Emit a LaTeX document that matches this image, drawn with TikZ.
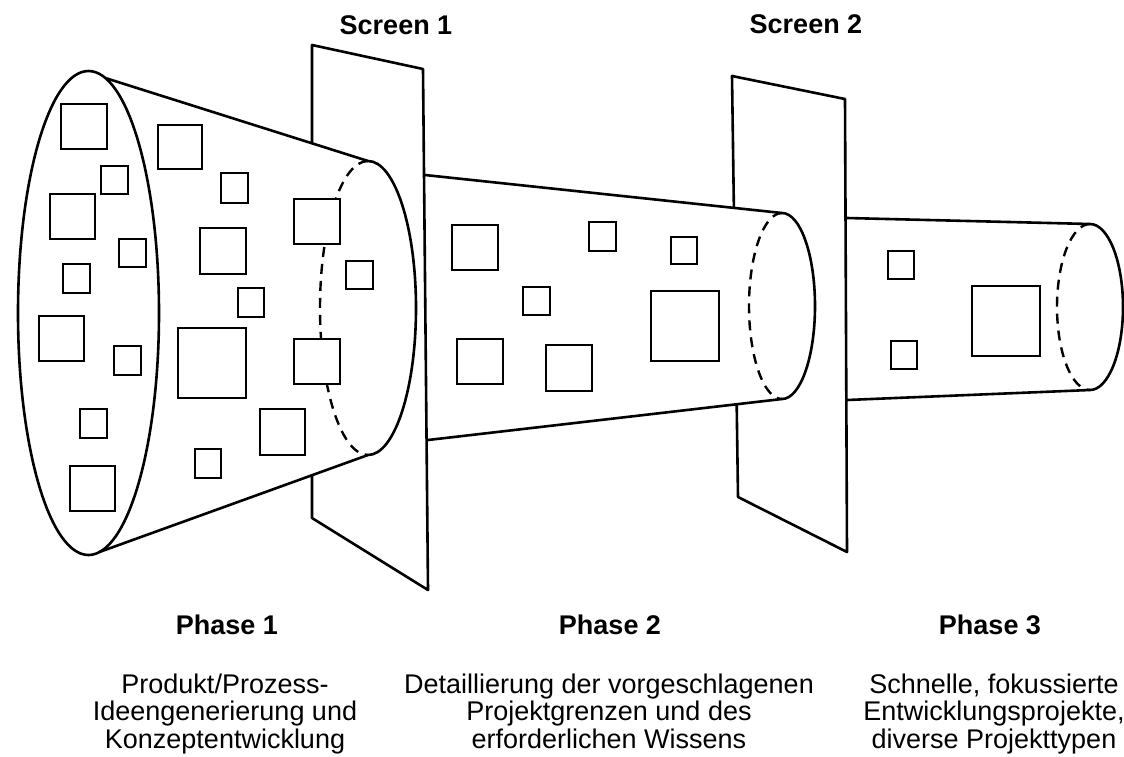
\documentclass[tikz,border=0pt]{standalone}
\usepackage{fontspec}
\setmainfont{Liberation Sans}
\begin{document}
\begin{tikzpicture}[x=1pt,y=-1pt,
  outline/.style={line width=2.6pt, line join=round, line cap=round},
  hidden/.style={line width=2.4pt, dash pattern=on 10pt off 7pt},
  box/.style={line width=2.4pt, fill=white},
  title/.style={font=\fontsize{27}{28}\selectfont\bfseries, inner sep=0pt, anchor=base},
  desc/.style={font=\fontsize{27}{28}\selectfont, inner sep=0pt, anchor=base}]
\useasboundingbox (0,0) rectangle (1124,756);

% third tube, emerging behind screen 2
\fill[white] (847,218) -- (1090,224) arc[start angle=-90, end angle=90, x radius=33, y radius=83] -- (847,400) -- cycle;
\draw[outline] (847,218) -- (1090,224) arc[start angle=-90, end angle=90, x radius=33, y radius=83] -- (847,400);
\draw[hidden] (1090,224) arc[start angle=-90, end angle=-270, x radius=33, y radius=83];

% screen 2
\draw[outline, fill=white] (732,76) -- (845,99) -- (847,552) -- (738,497) -- cycle;

% second tube, emerging behind screen 1
\fill[white] (425,175) -- (782,213) arc[start angle=-90, end angle=90, x radius=33, y radius=93] -- (428,440) -- cycle;
\draw[outline] (425,175) -- (782,213) arc[start angle=-90, end angle=90, x radius=33, y radius=93] -- (428,440);
\draw[hidden] (782,213) arc[start angle=-90, end angle=-270, x radius=33, y radius=93];

% screen 1
\draw[outline, fill=white] (312,45) -- (423,69) -- (428,590) -- (312,518) -- cycle;

% wide funnel of phase 1
\fill[white] (105.3,78) -- (368,161) arc[start angle=-90, end angle=90, x radius=48, y radius=147] -- (99.4,552) -- cycle;
\fill[white] (88.5,313) ellipse[x radius=70.5, y radius=242];
\draw[outline] (88.5,313) ellipse[x radius=70.5, y radius=242];
\draw[outline] (105.3,78) -- (368,161) arc[start angle=-90, end angle=90, x radius=48, y radius=147] -- (99.4,552);
\draw[hidden] (368,161) arc[start angle=-90, end angle=-270, x radius=48, y radius=147];

% ideas and projects
\foreach \xa/\ya/\xb/\yb in {
  61/104/107/149, 101/166/128/194, 50/194/95/239, 119/239/146/267,
  63/264/90/293, 39/316/84/361, 114/346/141/375, 80/409/107/438,
  70/466/115/511, 158/125/202/169, 221/173/248/203, 200/228/246/274,
  238/288/264/317, 178/328/246/398, 195/449/221/478, 260/409/305/455,
  294/199/340/244, 346/261/373/289, 294/339/340/384,
  452/225/498/270, 589/222/616/251, 671/237/697/264, 523/287/550/315,
  651/291/719/361, 457/339/503/384, 546/345/592/391,
  888/251/914/279, 891/341/917/369, 972/286/1040/356}
  \draw[box] (\xa,\ya) rectangle (\xb,\yb);

% labels
\node[title] (scr1) at (396,34) {Screen 1};
\node[title] (scr2) at (806,33) {Screen 2};
\node[title] (ph1) at (227,634) {Phase 1};
\node[title] (ph2) at (610,634) {Phase 2};
\node[title] (ph3) at (990,634) {Phase 3};

\node[desc] (d1a) at (225,693) {Produkt/Prozess-};
\node[desc] (d1b) at (225,720.5) {Ideengenerierung und};
\node[desc] (d1c) at (225,748) {Konzeptentwicklung};

\node[desc] (d2a) at (609,693) {Detaillierung der vorgeschlagenen};
\node[desc] (d2b) at (609,720.5) {Projektgrenzen und des};
\node[desc] (d2c) at (609,748) {erforderlichen Wissens};

\node[desc] (d3a) at (994,693) {Schnelle, fokussierte};
\node[desc] (d3b) at (994,720.5) {Entwicklungsprojekte,};
\node[desc] (d3c) at (994,748) {diverse Projekttypen};
\end{tikzpicture}
\end{document}
